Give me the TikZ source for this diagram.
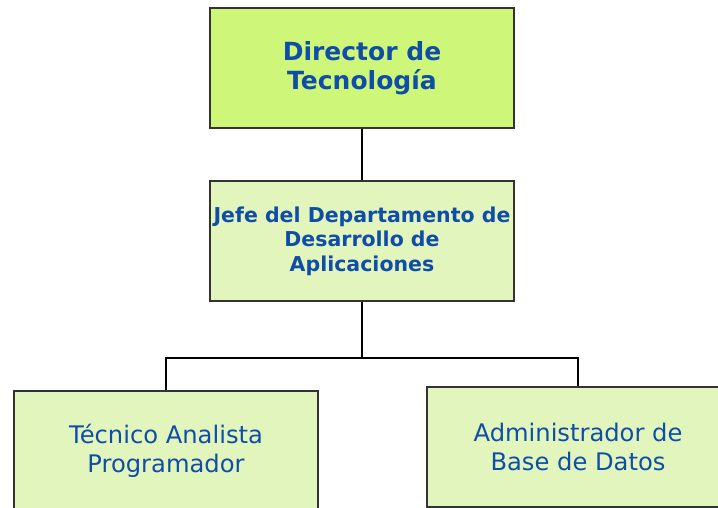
\documentclass[tikz,border=0pt]{standalone}
\usepackage{fontspec}
\setmainfont{DejaVu Sans}
\usetikzlibrary{positioning}
\definecolor{boxblue}{RGB}{15,77,168}
\definecolor{topgreen}{RGB}{206,247,122}
\definecolor{palegreen}{RGB}{226,245,188}
\definecolor{boxline}{RGB}{51,51,51}

\begin{document}
\begin{tikzpicture}[x=1pt,y=-1pt,
  every node/.style={draw=boxline,line width=2pt,rectangle,align=center,
  text=boxblue,minimum width=304pt,minimum height=120pt,inner sep=0pt},
  headbox/.style={fill=topgreen,font=\bfseries\fontsize{25}{29}\selectfont},
  chiefbox/.style={fill=palegreen,font=\bfseries\fontsize{20.5}{24.5}\selectfont},
  staffbox/.style={fill=palegreen,font=\fontsize{24.2}{29.5}\selectfont},
  link/.style={line width=2pt,black}]
\clip (0,0) rectangle (718,507);
\node[headbox] (dir) at (362,68) {Director de\\Tecnología};
\node[chiefbox] (jefe) at (362,241) {Jefe del Departamento de\\Desarrollo de\\Aplicaciones};
\node[staffbox] (tec) at (166,451) {Técnico Analista\\Programador};
\node[staffbox,minimum width=302pt] (adm) at (578,447) {Administrador de\\Base de Datos};
\coordinate (split) at (362,358);
\draw[link] (dir) -- (jefe);
\draw[link] (jefe) -- (split) -| (tec);
\draw[link] (split) -| (adm);
\end{tikzpicture}
\end{document}
